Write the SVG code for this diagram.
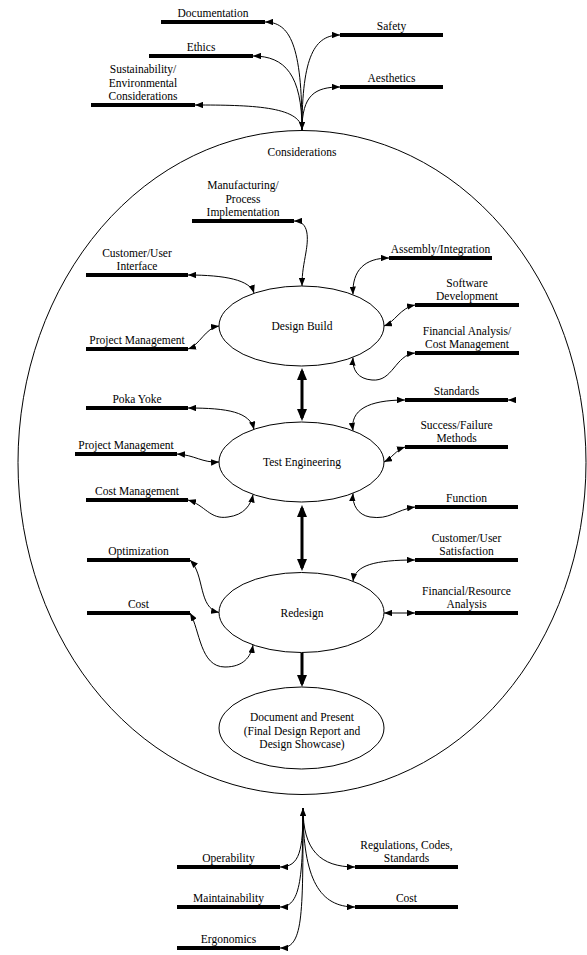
<svg xmlns="http://www.w3.org/2000/svg" width="587" height="955" viewBox="0 0 587 955">
<style>
text{font-family:"Liberation Serif","Times New Roman",serif;font-size:11.5px;text-anchor:middle;fill:#000}
.bar{stroke:#000;stroke-width:4}
.c{fill:none;stroke:#000;stroke-width:1}
.t{fill:none;stroke:#000;stroke-width:3}
.e{fill:#fff;stroke:#000;stroke-width:1}
.big{fill:none;stroke:#000;stroke-width:1}
</style>
<defs>
<marker id="a" viewBox="0 0 10 8" refX="10" refY="4" markerWidth="8" markerHeight="6.4" markerUnits="userSpaceOnUse" orient="auto-start-reverse"><path d="M0,0 L10,4 L0,8 z"/></marker>
<marker id="T" viewBox="0 0 12 10" refX="9" refY="5" markerWidth="12" markerHeight="10" markerUnits="userSpaceOnUse" orient="auto-start-reverse"><path d="M0,0 L12,5 L0,10 z"/></marker>
</defs>
<rect width="587" height="955" fill="#fff"/>

<g id="considerations">
<ellipse class="big" cx="302" cy="462.5" rx="284" ry="332"/>
<text x="302" y="156">Considerations</text>
</g>

<g id="connectors">
<path class="c" d="M265,22 C290,22 302,45 302,130" marker-start="url(#a)" marker-end="url(#a)"/>
<path class="c" d="M253,56 C285,56 302,75 302,130" marker-start="url(#a)"/>
<path class="c" d="M195,105 C250,105 300,106 302,129" marker-start="url(#a)"/>
<path class="c" d="M340,35 C315,35 302,55 302,130" marker-start="url(#a)"/>
<path class="c" d="M340,87 C315,87 302,95 302,130" marker-start="url(#a)"/>

<path class="c" d="M294,221 C310,221 308,240 306,252 C304,264 302,272 302,286" marker-start="url(#a)" marker-end="url(#a)"/>
<path class="c" d="M188,275 C225,275 250,280 254,293" marker-start="url(#a)" marker-end="url(#a)"/>
<path class="c" d="M188,349 C200,345 205,328 219,326" marker-start="url(#a)" marker-end="url(#a)"/>
<path class="c" d="M389,258 C365,258 352,270 353,294.5" marker-start="url(#a)" marker-end="url(#a)"/>
<path class="c" d="M415,305 C400,308 395,322 384,326" marker-start="url(#a)" marker-end="url(#a)"/>
<path class="c" d="M415,353 C395,355 393,382 372,380 C358,379 352,370 353,357.5" marker-start="url(#a)" marker-end="url(#a)"/>

<path class="c" d="M188,408 C228,408 250,412 254,429.5" marker-start="url(#a)" marker-end="url(#a)"/>
<path class="c" d="M177,454 C195,455 202,463 219,462" marker-start="url(#a)" marker-end="url(#a)"/>
<path class="c" d="M188,500 C205,505 210,520 228,517 C244,515 251,505 253,494.5" marker-start="url(#a)" marker-end="url(#a)"/>
<path class="c" d="M405,400 C368,400 350,410 353,430.8" marker-start="url(#a)" marker-end="url(#a)"/>
<path class="c" d="M516,400 L508,400" marker-end="url(#a)"/>
<path class="c" d="M405,447 C396,450 392,458 384,462" marker-start="url(#a)" marker-end="url(#a)"/>
<path class="c" d="M415,507 C395,510 390,520 370,517 C358,515 352,505 353,493.2" marker-start="url(#a)" marker-end="url(#a)"/>

<path class="c" d="M190,560 C205,575 198,608 219,612.5" marker-start="url(#a)" marker-end="url(#a)"/>
<path class="c" d="M190,613 C200,630 200,667 225,667 C243,667 251,657 253,645" marker-start="url(#a)" marker-end="url(#a)"/>
<path class="c" d="M415,560 C375,560 355,565 353,581.3" marker-start="url(#a)" marker-end="url(#a)"/>
<path class="c" d="M415,613 L384,613" marker-start="url(#a)" marker-end="url(#a)"/>

<path class="t" d="M302,371 L302,418" marker-start="url(#T)" marker-end="url(#T)"/>
<path class="t" d="M302,508 L302,568" marker-start="url(#T)" marker-end="url(#T)"/>
<path class="t" d="M302,653 L302,684" marker-end="url(#T)"/>

<path class="c" d="M303,830 L303,808" marker-end="url(#a)"/>
<path class="c" d="M303,808 C303,850 300,867 280,867" marker-end="url(#a)"/>
<path class="c" d="M303,808 C303,880 300,907 280,907" marker-end="url(#a)"/>
<path class="c" d="M303,808 C303,920 303,948 280,948" marker-end="url(#a)"/>
<path class="c" d="M303,808 C303,850 320,867 355,867" marker-end="url(#a)"/>
<path class="c" d="M303,808 C303,880 320,907 355,907" marker-end="url(#a)"/>
</g>

<g id="design-build"><ellipse class="e" cx="301.5" cy="326" rx="82.5" ry="40"/><text x="302" y="330">Design Build</text></g>
<g id="test-engineering"><ellipse class="e" cx="301.5" cy="462" rx="82.5" ry="40"/><text x="302" y="466">Test Engineering</text></g>
<g id="redesign"><ellipse class="e" cx="301.5" cy="612.5" rx="82.5" ry="40"/><text x="302" y="616.5">Redesign</text></g>
<g id="document-present"><ellipse class="e" cx="301.5" cy="728" rx="82.5" ry="41"/><text x="302" y="721">Document and Present</text><text x="302" y="734.5">(Final Design Report and</text><text x="302" y="748">Design Showcase)</text></g>

<g id="documentation"><line class="bar" x1="161" y1="22" x2="265" y2="22"/><text x="213" y="17">Documentation</text></g>
<g id="ethics"><line class="bar" x1="149" y1="56" x2="253" y2="56"/><text x="201" y="51">Ethics</text></g>
<g id="sustainability"><line class="bar" x1="91" y1="105" x2="195" y2="105"/><text x="143" y="73">Sustainability/</text><text x="143" y="86.5">Environmental</text><text x="143" y="100">Considerations</text></g>
<g id="safety"><line class="bar" x1="340" y1="35" x2="443" y2="35"/><text x="391.5" y="30">Safety</text></g>
<g id="aesthetics"><line class="bar" x1="340" y1="87" x2="443" y2="87"/><text x="391.5" y="82">Aesthetics</text></g>

<g id="manufacturing"><line class="bar" x1="192" y1="221" x2="294" y2="221"/><text x="243" y="189">Manufacturing/</text><text x="243" y="202.5">Process</text><text x="243" y="216">Implementation</text></g>
<g id="customer-interface"><line class="bar" x1="86" y1="275" x2="188" y2="275"/><text x="137" y="256.5">Customer/User</text><text x="137" y="270">Interface</text></g>
<g id="project-management-1"><line class="bar" x1="86" y1="349" x2="188" y2="349"/><text x="137" y="344">Project Management</text></g>
<g id="assembly"><line class="bar" x1="389" y1="258" x2="492" y2="258"/><text x="440.5" y="253">Assembly/Integration</text></g>
<g id="software"><line class="bar" x1="415" y1="305" x2="519" y2="305"/><text x="467" y="286.5">Software</text><text x="467" y="300">Development</text></g>
<g id="financial-analysis"><line class="bar" x1="415" y1="353" x2="519" y2="353"/><text x="467" y="334.5">Financial Analysis/</text><text x="467" y="348">Cost Management</text></g>

<g id="poka-yoke"><line class="bar" x1="86" y1="408" x2="188" y2="408"/><text x="137" y="403">Poka Yoke</text></g>
<g id="project-management-2"><line class="bar" x1="75" y1="454" x2="177" y2="454"/><text x="126" y="449">Project Management</text></g>
<g id="cost-management"><line class="bar" x1="86" y1="500" x2="188" y2="500"/><text x="137" y="495">Cost Management</text></g>
<g id="standards"><line class="bar" x1="405" y1="400" x2="508" y2="400"/><text x="456.5" y="395">Standards</text></g>
<g id="success-failure"><line class="bar" x1="405" y1="447" x2="508" y2="447"/><text x="456.5" y="428.5">Success/Failure</text><text x="456.5" y="442">Methods</text></g>
<g id="function"><line class="bar" x1="415" y1="507" x2="518" y2="507"/><text x="466.5" y="502">Function</text></g>

<g id="optimization"><line class="bar" x1="87" y1="560" x2="190" y2="560"/><text x="138.5" y="555">Optimization</text></g>
<g id="cost-1"><line class="bar" x1="87" y1="613" x2="190" y2="613"/><text x="138.5" y="608">Cost</text></g>
<g id="customer-satisfaction"><line class="bar" x1="415" y1="560" x2="518" y2="560"/><text x="466.5" y="541.5">Customer/User</text><text x="466.5" y="555">Satisfaction</text></g>
<g id="financial-resource"><line class="bar" x1="415" y1="613" x2="518" y2="613"/><text x="466.5" y="594.5">Financial/Resource</text><text x="466.5" y="608">Analysis</text></g>

<g id="operability"><line class="bar" x1="177" y1="867" x2="280" y2="867"/><text x="228.5" y="862">Operability</text></g>
<g id="maintainability"><line class="bar" x1="177" y1="907" x2="280" y2="907"/><text x="228.5" y="902">Maintainability</text></g>
<g id="ergonomics"><line class="bar" x1="177" y1="948" x2="280" y2="948"/><text x="228.5" y="943">Ergonomics</text></g>
<g id="regulations"><line class="bar" x1="355" y1="867" x2="458" y2="867"/><text x="406.5" y="848.5">Regulations, Codes,</text><text x="406.5" y="862">Standards</text></g>
<g id="cost-2"><line class="bar" x1="355" y1="907" x2="458" y2="907"/><text x="406.5" y="902">Cost</text></g>
</svg>
